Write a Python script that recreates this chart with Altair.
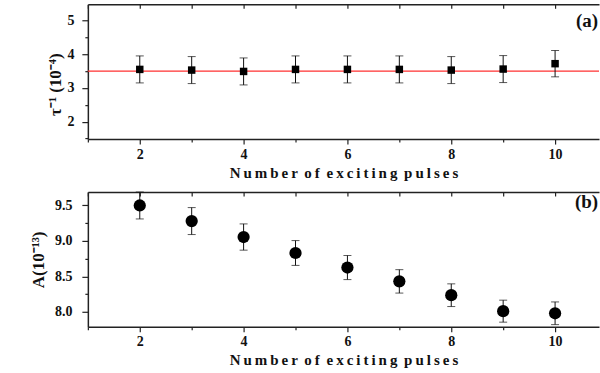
import altair as alt
import pandas as pd

pulses = [2, 3, 4, 5, 6, 7, 8, 9, 10]
tau_inv = [3.55, 3.53, 3.49, 3.55, 3.55, 3.55, 3.53, 3.56, 3.72]
tau_err = [0.40, 0.40, 0.40, 0.40, 0.40, 0.40, 0.40, 0.40, 0.39]
amp = [9.50, 9.28, 9.055, 8.83, 8.625, 8.43, 8.235, 8.01, 7.98]
amp_err = [0.19, 0.19, 0.185, 0.175, 0.17, 0.165, 0.16, 0.155, 0.16]
tau_fit = 3.50

x_ticks = list(range(1, 11))
tau_ticks = [1.5, 2, 2.5, 3, 3.5, 4, 4.5, 5]
amp_ticks = [8.0, 8.25, 8.5, 8.75, 9.0, 9.25, 9.5]

FONT = "Liberation Serif"
INK = "#111111"


def spaced(text):
    return " \u2009".join("\u2009".join(w) for w in text.split(" "))


X_TITLE = spaced("Number of exciting pulses")

df_a = pd.DataFrame({"n": pulses, "v": tau_inv, "e": tau_err})
df_a["lo"] = df_a["v"] - df_a["e"]
df_a["hi"] = df_a["v"] + df_a["e"]
df_b = pd.DataFrame({"n": pulses, "v": amp, "e": amp_err})
df_b["lo"] = df_b["v"] - df_b["e"]
df_b["hi"] = df_b["v"] + df_b["e"]

W, H = 512, 135
xscale = alt.Scale(domain=[1, 10.846], nice=False, zero=False)


def panel(df, yscale, yvals, ytitle, major_test, yfmt, label, lab_x, lab_y,
          marker, titleY, labelPad, titlePad, fit=None):
    x_bottom = alt.Axis(
        orient="bottom", values=x_ticks, title=X_TITLE,
        labelExpr="datum.value % 2 == 0 ? datum.label : ''",
        tickSize={"condition": {"test": "datum.value % 2 == 0", "value": 5}, "value": 3},
        labelPadding=3, titlePadding=4, grid=False,
    )
    x_top_line = alt.Axis(orient="top", labels=False, ticks=False, title=None, grid=False)
    x_top_ticks = alt.Axis(orient="top", labels=False, domain=False, title=None, grid=False,
                           values=x_ticks, tickSize=4, offset=-4)
    y_kwargs = dict(
        values=yvals, title=ytitle, format=yfmt,
        labelExpr=f"({major_test}) ? datum.label : ''",
        tickSize={"condition": {"test": major_test, "value": 6}, "value": 3},
        labelPadding=labelPad, titlePadding=titlePad, grid=False, titleFontSize=17,
    )
    if titleY is not None:
        y_kwargs["titleY"] = titleY
    y_axis = alt.Axis(**y_kwargs)
    base = alt.Chart(df)
    bars = base.mark_rule(color=INK, strokeWidth=1).encode(
        x=alt.X("n:Q", scale=xscale, axis=x_top_line),
        y=alt.Y("lo:Q", scale=yscale, axis=None),
        y2="hi:Q",
    )
    cap_lo = base.mark_tick(color=INK, orient="horizontal", size=8, thickness=1).encode(
        x=alt.X("n:Q", scale=xscale, axis=x_top_ticks),
        y=alt.Y("lo:Q", scale=yscale, axis=None),
    )
    cap_hi = base.mark_tick(color=INK, orient="horizontal", size=8, thickness=1).encode(
        x=alt.X("n:Q", scale=xscale, axis=None),
        y=alt.Y("hi:Q", scale=yscale, axis=None),
    )
    if marker == "square":
        pts = base.mark_square(color="black", opacity=1, size=56)
    else:
        pts = base.mark_circle(color="black", opacity=1, size=150)
    pts = pts.encode(
        x=alt.X("n:Q", scale=xscale, axis=x_bottom),
        y=alt.Y("v:Q", scale=yscale, axis=y_axis),
    )
    txt = alt.Chart(pd.DataFrame({"t": [label]})).mark_text(
        font=FONT, fontWeight="bold", fontSize=19, align="right", baseline="alphabetic",
        color=INK, clip=True,
    ).encode(
        x=alt.X(datum=lab_x, scale=xscale, axis=None),
        y=alt.Y(datum=lab_y, scale=yscale, axis=None),
        text="t:N",
    )
    layers = []
    if fit is not None:
        layers.append(alt.Chart(pd.DataFrame({"f": [fit]})).mark_rule(
            color="#ff3030", strokeWidth=1.2).encode(
            y=alt.Y("f:Q", scale=yscale, axis=None)))
    layers += [bars, cap_lo, cap_hi, pts, txt]
    return alt.layer(*layers).resolve_axis(x="independent", y="independent").properties(
        width=W, height=H)


top = panel(
    df_a, alt.Scale(domain=[1.485, 5.48], nice=False, zero=False), tau_ticks,
    "\u03c4\u207b\u00b9 (10\u207b\u2074)", "datum.value % 1 == 0", ".0f",
    "(a)", 10.83, 4.82, "square", 80, 8, 2, fit=tau_fit,
)
bottom = panel(
    df_b, alt.Scale(domain=[7.79, 9.69], nice=False, zero=False), amp_ticks,
    "A(10\u207b\u00b9\u00b3)", "abs(datum.value * 2 - round(datum.value * 2)) < 0.001", ".1f",
    "(b)", 10.83, 9.458, "circle", None, 10, 7,
)

chart = alt.vconcat(top, bottom, spacing=11).properties(
    padding={"left": 29, "top": 3, "right": 0, "bottom": 0},
    background="white",
).configure_view(stroke=None).configure_axis(
    labelFont=FONT, labelFontWeight="bold", labelFontSize=14, labelColor=INK,
    titleFont=FONT, titleFontWeight="bold", titleFontSize=15, titleColor=INK,
    domainColor="#222222", domainWidth=1.5, tickColor="#222222", tickWidth=1.2,
)

chart.save("out.html", embed_options={"renderer": "svg", "actions": False})
